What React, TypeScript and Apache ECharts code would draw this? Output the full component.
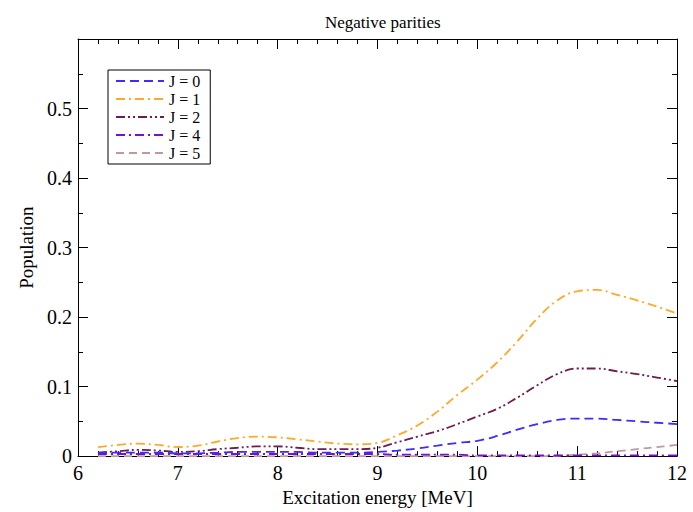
import React, { useEffect, useRef } from "react";
import * as echarts from "echarts";

const energies = [6.2, 6.4, 6.6, 6.8, 7.0, 7.2, 7.4, 7.6, 7.8, 8.0, 8.2, 8.4, 8.6, 8.8, 9.0, 9.2, 9.4, 9.6, 9.8, 10.0, 10.2, 10.4, 10.6, 10.8, 11.0, 11.2, 11.4, 11.6, 11.8, 12.0];

const popJ0 = [0.004, 0.005, 0.005, 0.005, 0.004, 0.004, 0.005, 0.006, 0.006, 0.006, 0.006, 0.005, 0.005, 0.005, 0.006, 0.008, 0.011, 0.015, 0.019, 0.022, 0.029, 0.038, 0.046, 0.052, 0.054, 0.054, 0.052, 0.050, 0.048, 0.046];
const popJ1 = [0.013, 0.016, 0.018, 0.016, 0.013, 0.015, 0.021, 0.026, 0.028, 0.027, 0.024, 0.021, 0.018, 0.017, 0.019, 0.030, 0.044, 0.064, 0.088, 0.110, 0.135, 0.165, 0.198, 0.224, 0.237, 0.239, 0.232, 0.224, 0.215, 0.205];
const popJ2 = [0.005, 0.007, 0.009, 0.008, 0.006, 0.007, 0.010, 0.012, 0.014, 0.014, 0.012, 0.010, 0.010, 0.010, 0.012, 0.020, 0.028, 0.036, 0.046, 0.057, 0.068, 0.084, 0.102, 0.118, 0.126, 0.126, 0.122, 0.118, 0.113, 0.108];
const popJ4 = [0.003, 0.003, 0.003, 0.003, 0.003, 0.003, 0.003, 0.003, 0.003, 0.003, 0.003, 0.003, 0.003, 0.003, 0.003, 0.002, 0.002, 0.002, 0.002, 0.001, 0.001, 0.001, 0.001, 0.001, 0.001, 0.001, 0.001, 0.001, 0.001, 0.001];
const popJ5 = [0.000, 0.000, 0.000, 0.000, 0.000, 0.000, 0.000, 0.000, 0.000, 0.000, 0.000, 0.000, 0.000, 0.000, 0.000, 0.000, 0.000, 0.000, 0.000, 0.000, 0.000, 0.000, 0.000, 0.0005, 0.002, 0.004, 0.007, 0.010, 0.013, 0.016];

const seriesNames = ["J = 0", "J = 1", "J = 2", "J = 4", "J = 5"];
const seriesColors = ["#3b2dff", "#ffa928", "#6e1c52", "#7a10cc", "#c09a9a"];
const seriesDash: number[][] = [
  [9, 5],
  [9, 4, 2, 4],
  [9, 3, 2, 3, 2, 3],
  [9, 4, 2, 4],
  [8, 5],
];
const seriesValues = [popJ0, popJ1, popJ2, popJ4, popJ5];

const FONT = "Liberation Serif";

export default function App() {
  const ref = useRef<HTMLDivElement>(null);
  useEffect(() => {
    if (!ref.current) return;
    const chart = echarts.init(ref.current, undefined, { renderer: "svg" });
    const tickCommon = { inside: true, length: 10, lineStyle: { color: "#000", width: 1 } };
    const minorCommon = { show: true, length: 5, lineStyle: { color: "#000", width: 1 } };
    chart.setOption({
      animation: false,
      backgroundColor: "#fff",
      title: {
        text: "Negative parities",
        left: 320,
        top: 9,
        textStyle: { fontFamily: FONT, fontSize: 17, fontWeight: "normal", color: "#000" },
      },
      grid: { left: 78, right: 16, top: 39, bottom: 54 },
      legend: {
        orient: "vertical",
        left: 108,
        top: 70,
        data: seriesNames,
        itemWidth: 48,
        itemHeight: 12,
        itemGap: 2,
        itemTextGap: 8,
        padding: [3, 10, 3, 7],
        borderColor: "#000",
        borderWidth: 1,
        itemStyle: { opacity: 0 },
        textStyle: { fontFamily: FONT, fontSize: 16, lineHeight: 15, color: "#000" },
      },
      xAxis: [
        {
          type: "value",
          min: 6,
          max: 12,
          interval: 1,
          name: "Excitation energy [MeV]",
          nameLocation: "middle",
          nameGap: 26,
          nameTextStyle: { fontFamily: FONT, fontSize: 19, color: "#000" },
          axisLine: { onZero: false, lineStyle: { color: "#000", width: 1 } },
          axisTick: tickCommon,
          minorTick: { ...minorCommon, splitNumber: 5 },
          splitLine: { show: false },
          axisLabel: { fontFamily: FONT, fontSize: 20, color: "#000", margin: 7 },
        },
        {
          type: "value",
          position: "top",
          min: 6,
          max: 12,
          interval: 1,
          axisLine: { onZero: false, lineStyle: { color: "#000", width: 1 } },
          axisTick: tickCommon,
          minorTick: { ...minorCommon, splitNumber: 5 },
          splitLine: { show: false },
          axisLabel: { show: false },
        },
      ],
      yAxis: [
        {
          type: "value",
          min: 0,
          max: 0.6,
          interval: 0.1,
          name: "Population",
          nameLocation: "middle",
          nameGap: 39,
          nameTextStyle: { fontFamily: FONT, fontSize: 19, color: "#000" },
          axisLine: { onZero: false, lineStyle: { color: "#000", width: 1 } },
          axisTick: tickCommon,
          minorTick: { ...minorCommon, splitNumber: 2 },
          splitLine: { show: false },
          axisLabel: {
            fontFamily: FONT,
            fontSize: 20,
            color: "#000",
            margin: 6,
            showMaxLabel: false,
            formatter: (v: number) => (v === 0 ? "0" : String(Math.round(v * 10) / 10)),
          },
        },
        {
          type: "value",
          position: "right",
          min: 0,
          max: 0.6,
          interval: 0.1,
          axisLine: { onZero: false, lineStyle: { color: "#000", width: 1 } },
          axisTick: tickCommon,
          minorTick: { ...minorCommon, splitNumber: 2 },
          splitLine: { show: false },
          axisLabel: { show: false },
        },
      ],
      series: seriesNames.map((name, i) => ({
        name,
        type: "line",
        xAxisIndex: 0,
        yAxisIndex: 0,
        smooth: 0.4,
        symbol: "none",
        showSymbol: false,
        color: seriesColors[i],
        lineStyle: { color: seriesColors[i], width: 1.8, type: seriesDash[i] },
        data: energies.map((e, k) => [e, seriesValues[i][k]]),
        z: 10 - i,
      })),
    });
    return () => chart.dispose();
  }, []);
  return <div ref={ref} style={{ width: 693, height: 512, position: "absolute", left: 0, top: 0 }} />;
}
